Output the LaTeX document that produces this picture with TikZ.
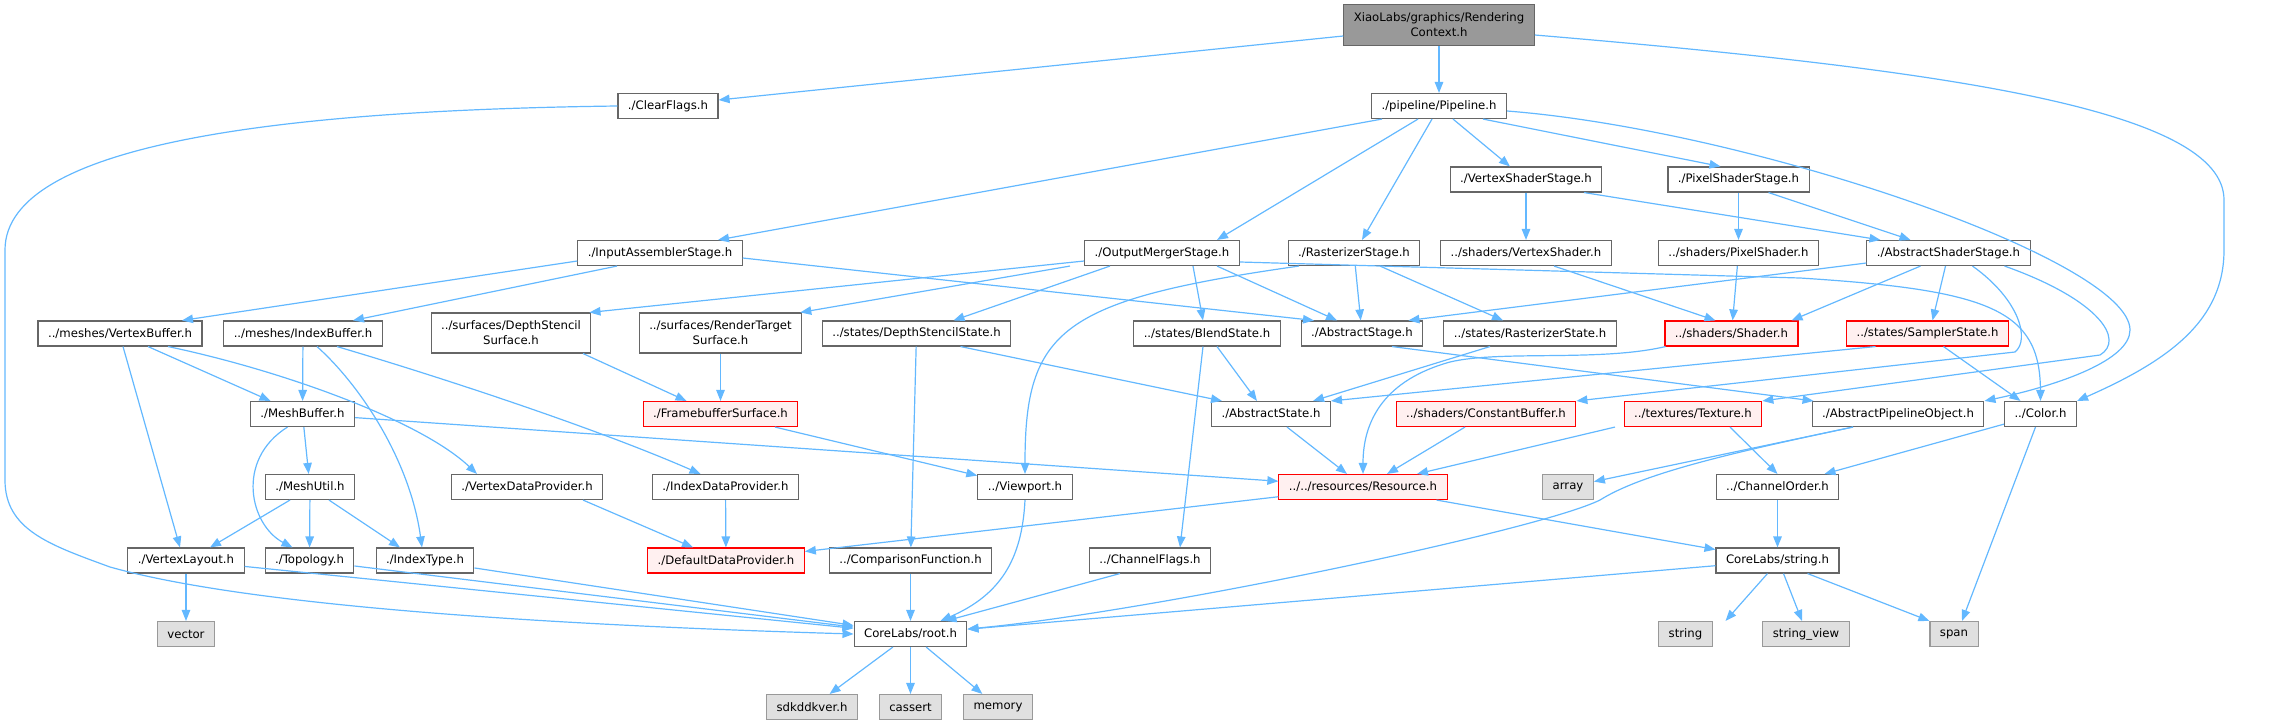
\documentclass[tikz,border=0pt]{standalone}
\usepackage{fontspec}
\setmainfont{DejaVu Sans}
\usetikzlibrary{arrows.meta}
\definecolor{eblue}{HTML}{63B8FF}
\definecolor{gfour}{HTML}{666666}
\definecolor{gsix}{HTML}{999999}
\definecolor{extfill}{HTML}{E0E0E0}
\definecolor{redfill}{HTML}{FFF0F0}
\definecolor{redline}{HTML}{FF0000}
\begin{document}
\begin{tikzpicture}[x=1pt,y=-1pt,
  box/.style={draw=gfour, line width=1.1pt, fill=white, minimum height=25, inner xsep=10, inner ysep=2, font=\fontsize{11.7}{15}\selectfont, align=center},
  rootbox/.style={box, fill=gsix, minimum height=41},
  twobox/.style={box, minimum height=40},
  redbox/.style={box, draw=redline, fill=redfill},
  extbox/.style={box, draw=gsix, fill=extfill},
  inc/.style={draw=eblue, line width=1.2pt, -{Triangle[length=11pt,width=8.5pt]}}]
\useasboundingbox (0,0) rectangle (2287,725);
% nodes
\node[rootbox] (root) at (1439,25) {XiaoLabs/graphics/Rendering\\Context.h};
\node[box] (clear) at (668,106) {./ClearFlags.h};
\node[box] (pipe) at (1439,106) {./pipeline/Pipeline.h};
\node[box] (vss) at (1526,179.5) {./VertexShaderStage.h};
\node[box] (pss) at (1738.5,179.5) {./PixelShaderStage.h};
\node[box] (ias) at (660,253) {./InputAssemblerStage.h};
\node[box] (oms) at (1162,253) {./OutputMergerStage.h};
\node[box] (rs) at (1354,253) {./RasterizerStage.h};
\node[box] (vsh) at (1526,253) {../shaders/VertexShader.h};
\node[box] (psh) at (1738.5,253) {../shaders/PixelShader.h};
\node[box] (ass) at (1948.5,253) {./AbstractShaderStage.h};
\node[box] (vb) at (120,333.5) {../meshes/VertexBuffer.h};
\node[box] (ib) at (303,333.5) {../meshes/IndexBuffer.h};
\node[twobox] (dssf) at (511,333) {../surfaces/DepthStencil\\Surface.h};
\node[twobox] (rtsf) at (720.5,333) {../surfaces/RenderTarget\\Surface.h};
\node[box] (dsst) at (916.5,333.5) {../states/DepthStencilState.h};
\node[box] (bs) at (1207,333.5) {../states/BlendState.h};
\node[box] (as) at (1362,333.5) {./AbstractStage.h};
\node[box] (rsst) at (1530,333.5) {../states/RasterizerState.h};
\node[redbox] (sh) at (1731.5,333.5) {../shaders/Shader.h};
\node[redbox] (ss) at (1927.5,333.5) {../states/SamplerState.h};
\node[box] (mb) at (302.5,414) {./MeshBuffer.h};
\node[redbox] (fbs) at (720.5,414) {./FramebufferSurface.h};
\node[box] (ast) at (1271,414) {./AbstractState.h};
\node[redbox] (cb) at (1486,414) {../shaders/ConstantBuffer.h};
\node[redbox] (tex) at (1693,414) {../textures/Texture.h};
\node[box] (apo) at (1898,414) {./AbstractPipelineObject.h};
\node[box] (col) at (2040.5,414) {../Color.h};
\node[box] (mu) at (310,487) {./MeshUtil.h};
\node[box] (vdp) at (527,487) {./VertexDataProvider.h};
\node[box] (idp) at (725.5,487) {./IndexDataProvider.h};
\node[box] (vp) at (1025,487) {../Viewport.h};
\node[redbox] (res) at (1363,487) {../../resources/Resource.h};
\node[extbox] (arr) at (1568,487) {array};
\node[box] (co) at (1777.5,487) {../ChannelOrder.h};
\node[box] (vl) at (186,560.5) {./VertexLayout.h};
\node[box] (topo) at (309.5,560.5) {./Topology.h};
\node[box] (it) at (425,560.5) {./IndexType.h};
\node[redbox] (ddp) at (726,560.5) {./DefaultDataProvider.h};
\node[box] (cf) at (910.5,560.5) {../ComparisonFunction.h};
\node[box] (chf) at (1150,560.5) {../ChannelFlags.h};
\node[box] (str) at (1777.5,560.5) {CoreLabs/string.h};
\node[extbox] (vec) at (186,634) {vector};
\node[box] (rooth) at (910.5,634) {CoreLabs/root.h};
\node[extbox] (string) at (1685.5,634) {string};
\node[extbox] (sv) at (1806,634) {string\_view};
\node[extbox] (span) at (1954,634) {span};
\node[extbox] (sdk) at (812,707) {sdkddkver.h};
\node[extbox] (cas) at (910.5,707) {cassert};
\node[extbox] (mem) at (998,707) {memory};
% edges
\draw[inc] ([yshift=-11pt]root.west) -- ([yshift=6pt]clear.east);
\draw[inc] (root) -- (pipe);
\draw[inc] ([yshift=-10pt]root.east) .. controls (1950,70) and (2224,110) .. (2224,200) -- (2224,250) .. controls (2224,320) and (2170,360) .. (col.north east);
\draw[inc] (clear.west) .. controls (300,110) and (5,140) .. (5,250) -- (5,480) .. controls (5,530) and (50,545) .. (110,567) .. controls (220,598) and (450,622) .. (rooth.west);
\draw[inc] ([xshift=-57pt]pipe.south) -- ([xshift=58pt]ias.north);
\draw[inc] ([xshift=-21pt]pipe.south) -- ([xshift=55pt]oms.north);
\draw[inc] ([xshift=-7pt]pipe.south) -- ([xshift=8pt]rs.north);
\draw[inc] ([xshift=14pt]pipe.south) -- ([xshift=-16pt]vss.north);
\draw[inc] ([xshift=44pt]pipe.south) -- ([xshift=-18pt]pss.north);
\draw[inc] ([yshift=-5pt]pipe.east) .. controls (1750,130) and (2130,260) .. (2130,330) .. controls (2130,360) and (2060,385) .. (apo.north east);
\draw[inc] ([yshift=-8pt]ias.west) -- ([xshift=62pt]vb.north);
\draw[inc] ([xshift=-43pt]ias.south) -- ([xshift=50pt]ib.north);
\draw[inc] ([yshift=-5pt]ias.east) -- ([xshift=-48pt]as.north);
\draw[inc] ([yshift=-8pt]oms.west) -- ([xshift=-2pt]dssf.north east);
\draw[inc] ([xshift=-92pt]oms.south) -- ([xshift=-2pt]rtsf.north east);
\draw[inc] ([xshift=-52pt]oms.south) -- ([xshift=37pt]dsst.north);
\draw[inc] ([xshift=31pt]oms.south) -- ([xshift=-4pt]bs.north);
\draw[inc] ([xshift=55pt]oms.south) -- ([xshift=-25pt]as.north);
\draw[inc] ([yshift=-9pt]oms.east) -- (1800,278) .. controls (1990,290) and (2040,310) .. (col.north);
\draw[inc] ([xshift=-55pt]rs.south) .. controls (1060,300) and (1025,330) .. (vp.north);
\draw[inc] (rs) -- (as);
\draw[inc] ([xshift=26pt]rs.south) -- ([xshift=-27pt]rsst.north);
\draw[inc] (vss) -- (vsh);
\draw[inc] ([xshift=58pt]vss.south) -- ([xshift=-68pt]ass.north);
\draw[inc] (pss) -- (psh);
\draw[inc] ([xshift=30pt]pss.south) -- ([xshift=-38pt]ass.north);
\draw[inc] ([xshift=28pt]vsh.south) -- ([xshift=-16pt]sh.north);
\draw[inc] (psh) -- (sh);
\draw[inc] ([yshift=-10pt]ass.west) -- ([xshift=-15pt]as.north east);
\draw[inc] ([xshift=-28pt]ass.south) -- ([xshift=60pt]sh.north);
\draw[inc] ([xshift=-3pt]ass.south) -- ([xshift=5pt]ss.north);
\draw[inc] ([xshift=24pt]ass.south) .. controls (2020,300) and (2030,340) .. (2015,352) -- (cb.north east);
\draw[inc] ([xshift=56pt]ass.south) .. controls (2100,300) and (2125,340) .. (2100,355) -- (tex.north east);
\draw[inc] ([xshift=28pt]vb.south) -- ([xshift=-32pt]mb.north);
\draw[inc] ([xshift=3pt]vb.south) -- ([xshift=-6pt]vl.north);
\draw[inc] ([xshift=48pt]vb.south) .. controls (280,370) and (420,420) .. ([xshift=-50pt]vdp.north);
\draw[inc] (ib) -- (mb);
\draw[inc] ([xshift=14pt]ib.south) .. controls (360,385) and (410,460) .. ([xshift=-3pt]it.north);
\draw[inc] ([xshift=34pt]ib.south) .. controls (450,380) and (600,430) .. ([xshift=-25pt]idp.north);
\draw[inc] ([xshift=72pt]dssf.south) -- ([xshift=-34pt]fbs.north);
\draw[inc] (rtsf) -- (fbs);
\draw[inc] (dsst) -- (cf);
\draw[inc] ([xshift=44pt]dsst.south) -- ([xshift=-49pt]ast.north);
\draw[inc] ([xshift=10pt]bs.south) -- ([xshift=-14pt]ast.north);
\draw[inc] ([xshift=-4pt]bs.south) -- ([xshift=30pt]chf.north);
\draw[inc] ([xshift=30pt]as.south) -- ([xshift=2pt]apo.north west);
\draw[inc] ([xshift=-40pt]rsst.south) -- ([xshift=42pt]ast.north);
\draw[inc] ([xshift=-66pt]sh.south) .. controls (1600,362) and (1500,350) .. (1450,362) .. controls (1385,380) and (1363,420) .. (res.north);
\draw[inc] ([xshift=-52pt]ss.south) -- (ast.north east);
\draw[inc] ([xshift=16pt]ss.south) -- ([xshift=-20pt]col.north);
\draw[inc] (mb) -- (mu);
\draw[inc] ([xshift=-15pt]mb.south) .. controls (235,460) and (250,525) .. ([xshift=-17pt]topo.north);
\draw[inc] (mb) -- (res);
\draw[inc] (fbs) -- (vp);
\draw[inc] ([xshift=16pt]ast.south) -- ([xshift=-16pt]res.north);
\draw[inc] ([xshift=-21pt]cb.south) -- ([xshift=24pt]res.north);
\draw[inc] ([xshift=-78pt]tex.south) -- ([xshift=54pt]res.north);
\draw[inc] ([xshift=37pt]tex.south) -- (co.north);
\draw[inc] ([xshift=-45pt]apo.south) -- (arr);
\draw[inc] ([xshift=-45pt]apo.south) .. controls (1720,455) and (1640,475) .. (1600,500) .. controls (1540,530) and (1150,612) .. ([yshift=5pt]rooth.east);
\draw[inc] (col) -- (co);
\draw[inc] ([xshift=-5pt]col.south) -- ([xshift=8pt]span.north);
\draw[inc] ([xshift=-20pt]mu.south) -- ([xshift=24pt]vl.north);
\draw[inc] (mu) -- (topo);
\draw[inc] ([xshift=19pt]mu.south) -- ([xshift=-25pt]it.north);
\draw[inc] ([xshift=56pt]vdp.south) -- ([xshift=-33pt]ddp.north);
\draw[inc] (idp) -- (ddp);
\draw[inc] (vp.south) .. controls (1022,560) and (1000,595) .. ([xshift=30pt]rooth.north);
\draw[inc] (res) -- (ddp);
\draw[inc] (res) -- (str);
\draw[inc] (co) -- (str);
\draw[inc] (vl) -- (vec);
\draw[inc] (vl) -- (rooth);
\draw[inc] (topo) -- (rooth);
\draw[inc] (it) -- (rooth);
\draw[inc] (cf) -- (rooth);
\draw[inc] ([xshift=-30pt]chf.south) -- ([xshift=35pt]rooth.north);
\draw[inc] (str) -- (rooth);
\draw[inc] ([xshift=-10pt]str.south) -- ([xshift=40pt]string.north);
\draw[inc] ([xshift=6pt]str.south) -- ([xshift=-4pt]sv.north);
\draw[inc] ([xshift=30pt]str.south) -- (span.north west);
\draw[inc] (rooth) -- (sdk);
\draw[inc] (rooth) -- (cas);
\draw[inc] (rooth) -- (mem);
\end{tikzpicture}
\end{document}
